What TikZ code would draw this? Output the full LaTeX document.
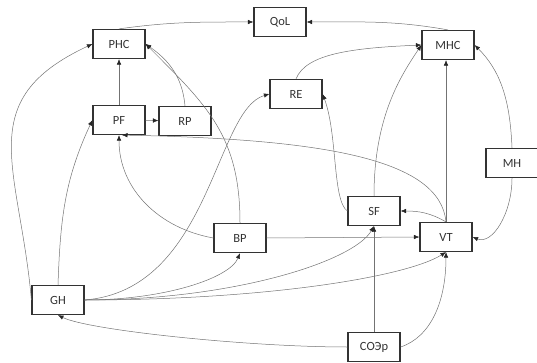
\documentclass[tikz,border=0pt]{standalone}
\usepackage{fontspec}
\setmainfont{Carlito}
\usetikzlibrary{arrows.meta}
\tikzset{
  factor/.style = {shape=rectangle, draw=black!80, line width=1.2pt,
          minimum width=52pt, minimum height=29pt, inner sep=0pt,
          text=black!80},
  link/.style   = {draw=black!55, line width=0.5pt,
          -{Latex[length=5.5pt,width=4.5pt,black!85]}}
}

\begin{document}
\begin{tikzpicture}
  [
    x                 = 1pt,
    y                 = 1pt,
    every node/.style = {font=\fontsize{12.5}{14}\selectfont}
  ]
  \useasboundingbox (0,0) rectangle (537,-363);
  % variables
  \node [factor] (QoL) at (280,-22)  {QoL};
  \node [factor] (PHC) at (119,-44)  {PHC};
  \node [factor] (MHC) at (448,-45)  {MHC};
  \node [factor] (RE)  at (296,-94)  {RE};
  \node [factor] (PF)  at (119,-120) {PF};
  \node [factor] (RP)  at (185,-121) {RP};
  \node [factor] (MH)  at (512,-163) {MH};
  \node [factor] (SF)  at (374,-211) {SF};
  \node [factor] (VT)  at (446,-237) {VT};
  \node [factor] (BP)  at (240,-238) {BP};
  \node [factor] (GH)  at (58,-300)  {GH};
  \node [factor] (ESR) at (374,-347) {СОЭр};
  % links
  \draw [link] (PHC.north) to [out=8, in=180] (QoL.west);
  \draw [link] (MHC.north) to [out=170, in=0] (QoL.east);
  \draw [link] (PF.north) -- (PHC.south);
  \draw [link] (PF) -- (RP);
  \draw [link] (RP.north) to [out=95, in=-35] (PHC.east);
  \draw [link] (BP.north) to [out=90, in=-45, looseness=1.1] (PHC.east);
  \draw [link] (GH.west) to [out=95, in=-155, looseness=1.3] (PHC.west);
  \draw [link] (GH.north) to [out=88, in=-115] (PF.west);
  \draw [link] (BP.west) to [out=170, in=-90] (PF.south);
  \draw [link] (VT.north) .. controls +(-6,62) and +(206,-4) .. ([xshift=3pt]PF.south);
  \draw [link] (GH.east) .. controls +(126,10) and +(-55,-16) .. (RE.west);
  \draw [link] (GH.east) .. controls +(80,0) and +(-10,-25) .. (BP.south);
  \draw [link] (GH.east) .. controls +(150,0) and +(-20,-35) .. (SF.south);
  \draw [link] (GH.east) .. controls +(180,0) and +(-40,-25) .. (VT.south);
  \draw [link] (SF.west) .. controls +(-15,10) and +(15,-40) .. (RE.east);
  \draw [link] (RE.north) .. controls +(10,25) and +(-70,-3) .. (MHC.west);
  \draw [link] (SF.north) .. controls +(0,80) and +(-20,-30) .. (MHC.west);
  \draw [link] (VT.north) -- (VT.north |- MHC.south);
  \draw [link] (MH.north) .. controls +(-2,50) and +(25,-25) .. (MHC.east);
  \draw [link] (MH.south) .. controls +(0,-35) and +(20,-8) .. (VT.east);
  \draw [link] (VT.north) to [out=150, in=0] (SF.east);
  \draw [link] (BP.east) -- (VT.west);
  \draw [link] (ESR.north) -- (SF.south);
  \draw [link] (ESR.east) .. controls +(30,10) and +(0,-50) .. (VT.south);
  \draw [link] (ESR.west) .. controls +(-100,0) and +(30,-15) .. (GH.south);
\end{tikzpicture}
\end{document}
